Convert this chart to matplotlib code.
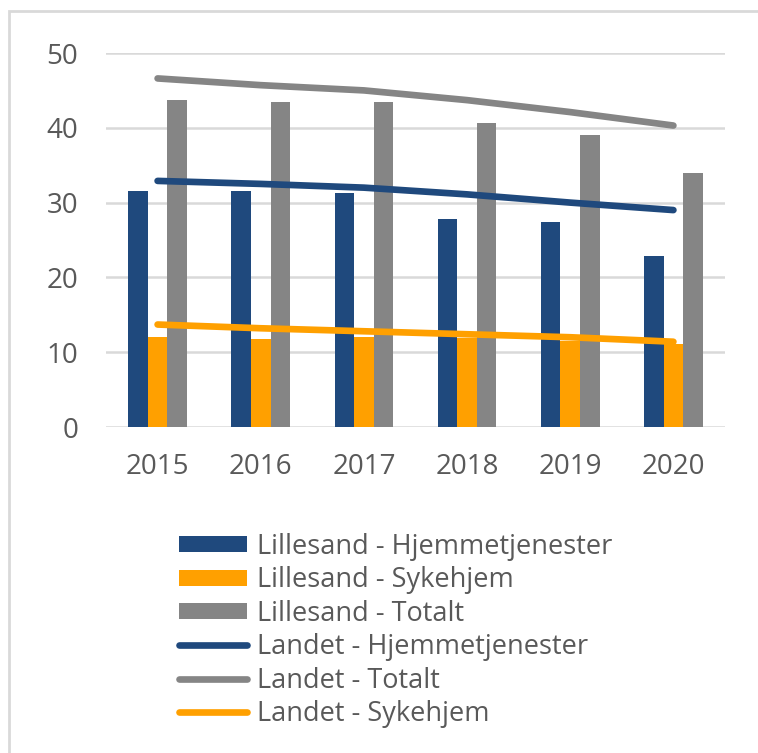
import numpy as np
import matplotlib
matplotlib.use("Agg")
import matplotlib.pyplot as plt
from matplotlib.patches import Rectangle

plt.rcParams['font.family'] = ['Open Sans', 'DejaVu Sans']

years = ['2015', '2016', '2017', '2018', '2019', '2020']

# Lillesand (bars)
lil_hjem = [31.5, 31.5, 31.3, 27.8, 27.4, 22.8]
lil_syke = [12.0, 11.8, 12.0, 11.9, 11.5, 11.1]
lil_tot = [43.7, 43.5, 43.5, 40.6, 39.0, 34.0]

# Landet (lines)
land_hjem = [32.9, 32.5, 32.0, 31.1, 30.0, 29.0]
land_tot = [46.6, 45.7, 45.0, 43.7, 42.1, 40.3]
land_syke = [13.7, 13.2, 12.8, 12.4, 12.0, 11.4]

blue = '#1F497D'
orange = '#FFA000'
gray = '#858585'
txt = '#595959'

W, H = 758, 753
fig = plt.figure(figsize=(W / 100, H / 100), dpi=100)
ax = fig.add_axes([106 / W, 1 - 427 / H, (725 - 106) / W, (427 - 53) / H])

x = np.arange(len(years))
bw = 0.19
b1 = ax.bar(x - bw, lil_hjem, bw, color=blue, label='Lillesand - Hjemmetjenester', zorder=2)
b2 = ax.bar(x, lil_syke, bw, color=orange, label='Lillesand - Sykehjem', zorder=2)
b3 = ax.bar(x + bw, lil_tot, bw, color=gray, label='Lillesand - Totalt', zorder=2)

lw = 4.8
l1, = ax.plot(x, land_hjem, color=blue, lw=lw, solid_capstyle='round', label='Landet - Hjemmetjenester', zorder=3)
l2, = ax.plot(x, land_tot, color=gray, lw=lw, solid_capstyle='round', label='Landet - Totalt', zorder=3)
l3, = ax.plot(x, land_syke, color=orange, lw=lw, solid_capstyle='round', label='Landet - Sykehjem', zorder=3)

ax.set_xlim(-0.5, 5.5)
ax.set_ylim(0, 50)
ax.set_yticks(range(0, 51, 10))
ax.set_xticks(x)
ax.set_xticklabels(years)
ax.yaxis.grid(True, color='#D9D9D9', lw=1.8, zorder=0)
ax.set_axisbelow(True)
for s in ax.spines.values():
    s.set_visible(False)
ax.tick_params(length=0, labelsize=20, colors=txt)
ax.tick_params(axis='y', pad=20)
ax.tick_params(axis='x', pad=19)

handles = [b1, b2, b3, l1, l2, l3]
leg = fig.legend(handles=handles, labels=[h.get_label() for h in handles],
                 loc='upper left', bbox_to_anchor=(168 / W, 1 - 522 / H),
                 frameon=False, fontsize=19.5, labelcolor=txt,
                 handlelength=2.5, handleheight=0.55, handletextpad=0.37,
                 labelspacing=0.2, borderaxespad=0)
for line in leg.get_lines():
    line.set_solid_capstyle('round')

fig.patches.append(Rectangle((9 / W, -0.01), 1, 1 - 11 / H + 0.01, transform=fig.transFigure,
                             fill=False, edgecolor='#D9D9D9', lw=2))

fig.savefig('out.png', dpi=100)
